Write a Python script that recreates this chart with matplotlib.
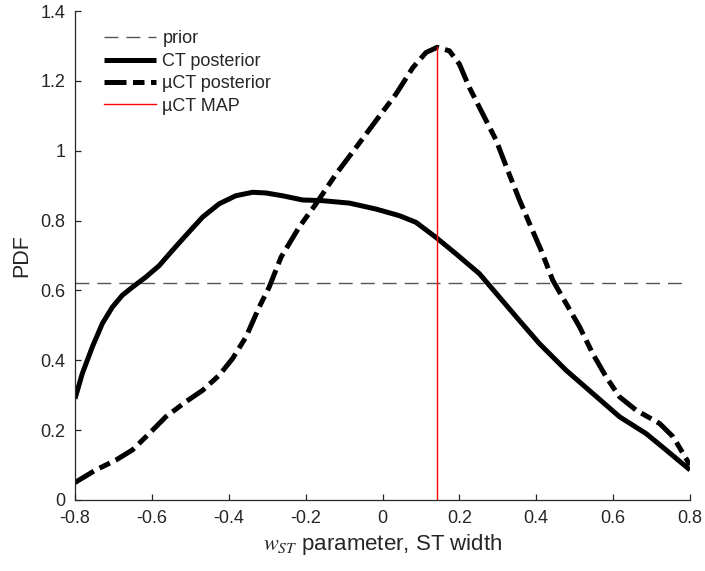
import matplotlib
matplotlib.use("Agg")
import matplotlib.pyplot as plt

plt.rcParams['font.family'] = ['Liberation Sans', 'DejaVu Sans']
plt.rcParams['mathtext.fontset'] = 'stix'

# ---- data ----
ct_x = [-0.800, -0.781, -0.755, -0.729, -0.703, -0.677, -0.651, -0.616, -0.581, -0.547,
        -0.512, -0.468, -0.425, -0.382, -0.338, -0.303, -0.260, -0.208, -0.156, -0.086,
        -0.017, 0.044, 0.087, 0.139, 0.191, 0.252, 0.304, 0.356, 0.408, 0.478,
        0.547, 0.617, 0.686, 0.738, 0.800]
ct_y = [0.290, 0.362, 0.438, 0.505, 0.552, 0.586, 0.609, 0.638, 0.671, 0.714,
        0.757, 0.810, 0.848, 0.871, 0.881, 0.879, 0.871, 0.859, 0.857, 0.850,
        0.833, 0.814, 0.795, 0.752, 0.705, 0.648, 0.581, 0.514, 0.448, 0.371,
        0.305, 0.238, 0.190, 0.143, 0.086]

uct_x = [-0.800, -0.746, -0.694, -0.651, -0.607, -0.564, -0.512, -0.468, -0.425, -0.390,
         -0.355, -0.321, -0.295, -0.264, -0.217, -0.173, -0.121, -0.069, -0.017, 0.035,
         0.079, 0.113, 0.142, 0.174, 0.200, 0.226, 0.261, 0.296, 0.326, 0.356,
         0.385, 0.413, 0.443, 0.478, 0.513, 0.547, 0.582, 0.617, 0.660, 0.721,
         0.756, 0.800]
uct_y = [0.050, 0.086, 0.114, 0.143, 0.190, 0.238, 0.281, 0.314, 0.357, 0.405,
         0.467, 0.552, 0.609, 0.695, 0.781, 0.848, 0.933, 1.009, 1.086, 1.162,
         1.238, 1.281, 1.296, 1.286, 1.248, 1.181, 1.105, 1.029, 0.943, 0.860,
         0.785, 0.714, 0.629, 0.562, 0.495, 0.419, 0.352, 0.295, 0.257, 0.219,
         0.181, 0.100]

prior_x = [-0.8, 0.8]
prior_y = [0.62, 0.62]

map_x = 0.142
map_top = 1.296

xticks = [-0.8, -0.6, -0.4, -0.2, 0, 0.2, 0.4, 0.6, 0.8]
xticklabels = ['-0.8', '-0.6', '-0.4', '-0.2', '0', '0.2', '0.4', '0.6', '0.8']
yticks = [0, 0.2, 0.4, 0.6, 0.8, 1.0, 1.2, 1.4]
yticklabels = ['0', '0.2', '0.4', '0.6', '0.8', '1', '1.2', '1.4']

# ---- figure ----
W, H = 705, 571
fig = plt.figure(figsize=(W / 100, H / 100), dpi=100)
ax = fig.add_axes([75 / W, (H - 500) / H, (690 - 75) / W, (500 - 11) / H])

axcol = '#262626'

ax.plot(prior_x, prior_y, color='#555555', lw=1.0, dashes=(10, 5.8), label='prior')
ax.plot(ct_x, ct_y, color='black', lw=3.6, solid_capstyle='butt',
        solid_joinstyle='round', label='CT posterior')
ax.plot(uct_x, uct_y, color='black', lw=3.6, dashes=(4.4, 1.3, 2.3, 1.3),
        dash_joinstyle='round', label='\u00b5CT posterior')
ax.plot([map_x, map_x], [0, map_top], color='#ff0000', lw=1.0, label='\u00b5CT MAP')

ax.set_xlim(-0.8, 0.8)
ax.set_ylim(0, 1.4)
ax.set_xticks(xticks)
ax.set_xticklabels(xticklabels)
ax.set_yticks(yticks)
ax.set_yticklabels(yticklabels)

for s in ['top', 'right']:
    ax.spines[s].set_visible(False)
for s in ['left', 'bottom']:
    ax.spines[s].set_color(axcol)
    ax.spines[s].set_linewidth(0.9)

ax.tick_params(direction='in', length=4.5, width=0.9, colors=axcol,
               labelsize=13, pad=7)

ax.set_xlabel('$w_{ST}$ parameter, ST width', fontsize=16, color=axcol, labelpad=4)
ax.set_ylabel('PDF', fontsize=15.5, color=axcol, labelpad=6)

leg = ax.legend(loc='upper left', bbox_to_anchor=(0.035, 0.975), frameon=False,
                fontsize=13, handlelength=2.9, handletextpad=0.35,
                labelspacing=0.3, borderaxespad=0)
for t in leg.get_texts():
    t.set_color(axcol)

fig.savefig('out.png', dpi=100)
